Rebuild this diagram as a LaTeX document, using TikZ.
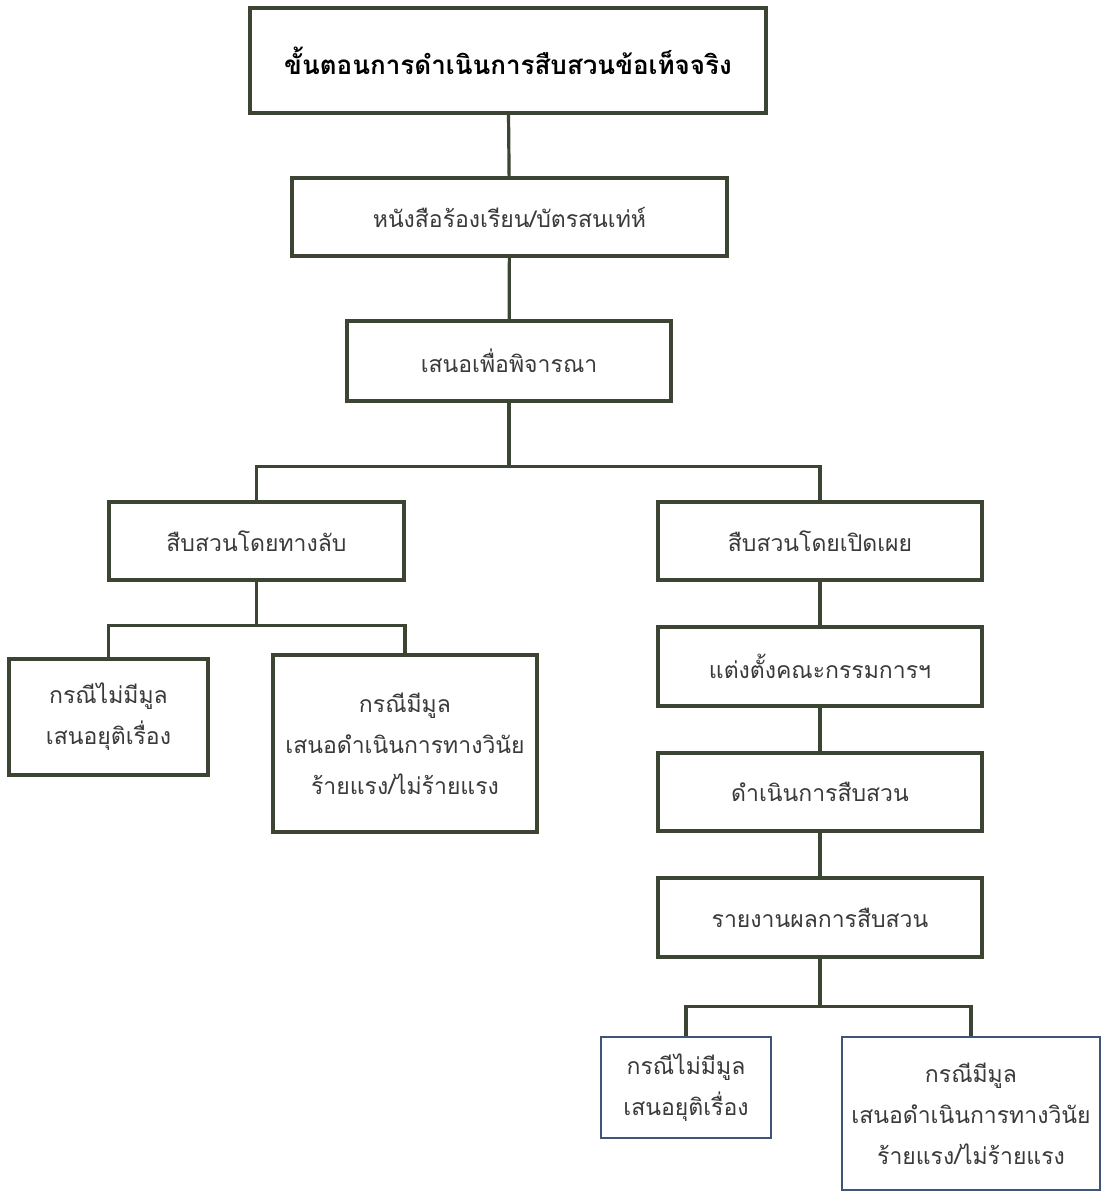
\documentclass[tikz,border=0pt]{standalone}
\usepackage{fontspec}
\newfontfamily\thaifont[Script=Thai]{Loma}
\usepackage{tikz}
\usetikzlibrary{positioning, calc}
\definecolor{linegray}{HTML}{3C4434}
\definecolor{boxblue}{HTML}{3E5577}
\definecolor{textgray}{HTML}{3A3A3A}

\begin{document}
\begin{tikzpicture}[x=1pt, y=-1pt,
  stepbox/.style={draw=linegray, line width=3.2pt, fill=white, align=center,
               font=\thaifont\fontsize{23}{41}\selectfont, text=textgray, inner sep=0pt},
  bluebox/.style={stepbox, draw=boxblue, line width=2.6pt},
  link/.style={draw=linegray, line width=3.2pt},
]
  \useasboundingbox (0,0) rectangle (1105,1193);

  \node[stepbox, minimum width=516, minimum height=105,
        font=\thaifont\bfseries\fontsize{26}{30}\selectfont, text=black] (head) at (508, 60.5)
        {ขั้นตอนการดำเนินการสืบสวนข้อเท็จจริง};
  \node[stepbox, minimum width=435, minimum height=78] (letter) at (509.5, 217) {หนังสือร้องเรียน/บัตรสนเท่ห์};
  \node[stepbox, minimum width=324, minimum height=80] (consider) at (509, 361) {เสนอเพื่อพิจารณา};

  \node[stepbox, minimum width=295, minimum height=78] (secret) at (256.5, 541) {สืบสวนโดยทางลับ};
  \node[stepbox, minimum width=324, minimum height=78] (open) at (820, 541) {สืบสวนโดยเปิดเผย};

  % Secret branch
  \node[stepbox, minimum width=199, minimum height=116] (nobasisL) at (108.5, 717) {กรณีไม่มีมูล\\เสนอยุติเรื่อง};
  \node[stepbox, minimum width=264, minimum height=177] (basisL) at (405, 743.5) {กรณีมีมูล\\เสนอดำเนินการทางวินัย\\ร้ายแรง/ไม่ร้ายแรง};

  % Open branch
  \node[stepbox, minimum width=324, minimum height=79] (appoint) at (820, 666.5) {แต่งตั้งคณะกรรมการฯ};
  \node[stepbox, minimum width=324, minimum height=78] (conduct) at (820, 792) {ดำเนินการสืบสวน};
  \node[stepbox, minimum width=324, minimum height=79] (report) at (820, 917.5) {รายงานผลการสืบสวน};
  \node[bluebox, minimum width=170, minimum height=101] (nobasisR) at (686, 1087.5) {กรณีไม่มีมูล\\เสนอยุติเรื่อง};
  \node[bluebox, minimum width=258, minimum height=153] (basisR) at (971, 1113.5) {กรณีมีมูล\\เสนอดำเนินการทางวินัย\\ร้ายแรง/ไม่ร้ายแรง};

  \coordinate (fork1) at ($(consider.south)+(0,64)$);
  \coordinate (fork2) at ($(secret.south)+(0,44)$);
  \coordinate (fork3) at ($(report.south)+(0,48)$);

  \draw[link] (head) -- (letter);
  \draw[link] (letter) -- (consider);
  \draw[link] (consider.south) -- (fork1);
  \draw[link] (secret.north) |- (fork1) -| (open.north);
  \draw[link] (secret.south) -- (fork2);
  \draw[link] (nobasisL.north) |- (fork2) -| (basisL.north);
  \foreach \i/\j in {open/appoint,appoint/conduct,conduct/report} {
    \draw[link] (\i) -- (\j);
  }
  \draw[link] (report.south) -- (fork3);
  \draw[link] (nobasisR.north) |- (fork3) -| (basisR.north);
\end{tikzpicture}
\end{document}
